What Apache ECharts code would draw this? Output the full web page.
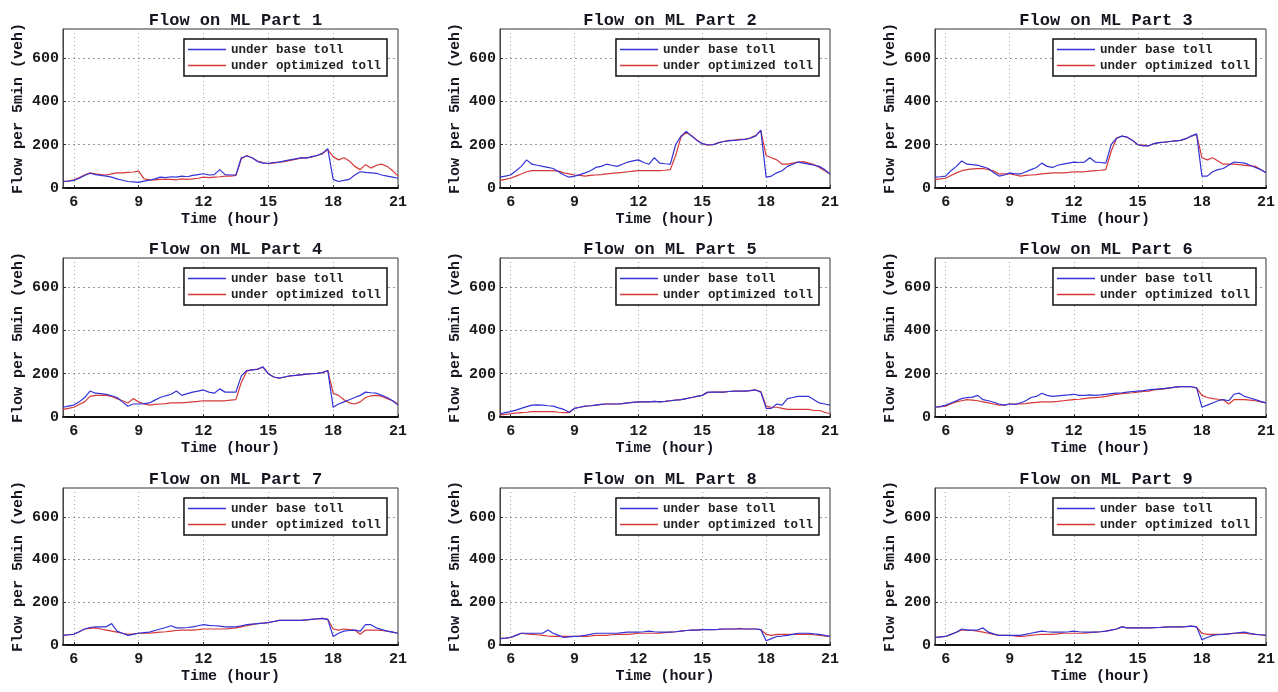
<!DOCTYPE html>
<html>
<head>
<meta charset="utf-8">
<script src="https://cdn.jsdelivr.net/npm/echarts@6/dist/echarts.min.js"></script>
<style>
  html, body { margin: 0; padding: 0; background: #fff; }
  #chart { width: 1278px; height: 692px; }
</style>
</head>
<body>
<div id="chart"></div>
<script>
// Sample times (hour of day, quarter-hour steps)
const hours = [
  5.5, 5.75,
  6, 6.25, 6.5, 6.75,  7, 7.25, 7.5, 7.75,  8, 8.25, 8.5, 8.75,
  9, 9.25, 9.5, 9.75,  10, 10.25, 10.5, 10.75,  11, 11.25, 11.5, 11.75,
  12, 12.25, 12.5, 12.75,  13, 13.25, 13.5, 13.75,  14, 14.25, 14.5, 14.75,
  15, 15.25, 15.5, 15.75,  16, 16.25, 16.5, 16.75,  17, 17.25, 17.5, 17.75,
  18, 18.25, 18.5, 18.75,  19, 19.25, 19.5, 19.75,  20, 20.25, 20.5, 20.75,
  21
];
const xTicks = [6, 9, 12, 15, 18, 21];
const yTicks = [0, 200, 400, 600];
const panelTitles = [
  'Flow on ML Part 1', 'Flow on ML Part 2', 'Flow on ML Part 3',
  'Flow on ML Part 4', 'Flow on ML Part 5', 'Flow on ML Part 6',
  'Flow on ML Part 7', 'Flow on ML Part 8', 'Flow on ML Part 9'
];
const seriesNames = ['under base toll', 'under optimized toll'];

// Flow per 5 min (veh) on each managed-lane part
const base1 = [30, 32,
  35, 45, 58, 68,  62, 58, 55, 50,  42, 36, 30, 28,  26, 32, 36, 42,
  50, 48, 52, 50,  55, 52, 58, 62,  66, 60, 62, 85,  62, 60, 60, 140,
  148, 140, 122, 115,  114, 118, 120, 125,  130, 135, 140, 138,  145, 150, 160, 182,
  40, 30, 35, 40,  60, 75, 72, 70,  68, 60, 55, 50,  45];
const opt1 = [30, 32,
  38, 48, 60, 70,  65, 62, 60, 65,  70, 70, 72, 74,  78, 42, 38, 38,
  40, 40, 40, 38,  42, 40, 42, 45,  50, 48, 50, 52,  55, 55, 58, 135,
  150, 140, 125, 118,  112, 115, 120, 122,  128, 132, 138, 140,  142, 150, 158, 178,
  145, 130, 140, 125,  100, 85, 108, 92,  105, 110, 100, 80,  55];

const base2 = [50, 55,
  60, 80, 100, 130,  110, 105, 100, 95,  90, 75, 60, 50,  55, 62, 70, 80,
  95, 100, 110, 105,  100, 110, 120, 125,  130, 118, 110, 140,  115, 112, 110, 200,
  240, 262, 240, 220,  205, 200, 200, 208,  215, 218, 220, 222,  225, 230, 240, 268,
  50, 55, 70, 80,  100, 110, 120, 115,  110, 105, 100, 85,  65];
const opt2 = [35, 40,
  45, 55, 65, 75,  80, 80, 80, 80,  80, 78, 70, 65,  60, 58, 55, 58,
  60, 62, 65, 68,  70, 72, 75, 78,  80, 80, 80, 80,  80, 82, 85, 150,
  235, 258, 242, 222,  205, 198, 200, 210,  215, 220, 222, 225,  225, 232, 242, 265,
  150, 140, 130, 110,  110, 115, 120, 122,  115, 108, 95, 80,  65];

const base3 = [50, 52,
  55, 80, 100, 125,  110, 108, 105, 98,  90, 70, 55, 60,  70, 65, 65, 75,
  85, 95, 115, 100,  95, 105, 110, 115,  120, 118, 120, 140,  120, 118, 115, 200,
  230, 240, 235, 220,  200, 195, 195, 205,  210, 212, 215, 218,  220, 228, 240, 250,
  55, 55, 75, 85,  90, 105, 120, 118,  115, 105, 95, 85,  70];
const opt3 = [40, 42,
  45, 58, 70, 80,  85, 88, 90, 90,  85, 78, 65, 65,  65, 60, 55, 58,
  60, 62, 65, 68,  70, 70, 70, 72,  75, 75, 75, 78,  80, 82, 85, 170,
  230, 240, 235, 220,  200, 198, 195, 205,  210, 212, 215, 218,  220, 228, 240, 248,
  140, 130, 140, 125,  110, 110, 110, 108,  105, 102, 100, 85,  70];

const base4 = [45, 50,
  55, 70, 90, 120,  110, 108, 105, 98,  90, 70, 50, 60,  60, 62, 65, 78,
  90, 98, 105, 120,  100, 108, 115, 120,  125, 115, 110, 130,  115, 115, 115, 190,
  215, 218, 220, 232,  200, 185, 180, 185,  190, 192, 195, 198,  200, 202, 205, 215,
  45, 60, 70, 80,  90, 100, 115, 112,  110, 100, 90, 75,  55];
const opt4 = [35, 40,
  45, 58, 70, 95,  100, 100, 100, 95,  85, 75, 65, 85,  70, 60, 55, 58,
  60, 62, 65, 65,  65, 68, 70, 72,  75, 75, 75, 75,  75, 78, 80, 160,
  212, 218, 222, 230,  200, 185, 180, 185,  190, 192, 195, 198,  200, 202, 205, 215,
  110, 100, 80, 65,  60, 70, 90, 98,  100, 95, 85, 75,  60];

const base5 = [15, 20,
  25, 32, 40, 48,  55, 56, 55, 52,  50, 42, 35, 22,  40, 45, 50, 52,
  55, 58, 60, 60,  60, 62, 65, 68,  70, 70, 70, 72,  70, 72, 75, 78,
  80, 85, 90, 95,  100, 115, 115, 115,  115, 118, 120, 120,  120, 122, 125, 115,
  40, 40, 60, 55,  85, 90, 95, 95,  95, 80, 65, 60,  55];
const opt5 = [10, 12,
  15, 18, 20, 22,  25, 25, 25, 25,  25, 22, 20, 20,  40, 45, 50, 52,
  55, 58, 60, 60,  60, 62, 65, 68,  70, 70, 70, 72,  70, 72, 75, 78,
  80, 85, 90, 95,  100, 113, 115, 115,  115, 118, 120, 120,  120, 122, 125, 118,
  50, 45, 45, 40,  35, 35, 35, 35,  35, 30, 30, 22,  15];

const base6 = [45, 48,
  55, 65, 75, 85,  90, 92, 100, 80,  75, 68, 60, 55,  60, 58, 65, 75,
  90, 95, 110, 100,  95, 98, 100, 102,  105, 100, 100, 102,  100, 102, 105, 108,
  110, 112, 115, 118,  120, 122, 125, 128,  130, 132, 135, 138,  140, 140, 140, 135,
  45, 55, 65, 75,  80, 75, 105, 110,  95, 88, 80, 72,  65];
const opt6 = [45, 48,
  50, 62, 70, 75,  80, 78, 75, 70,  65, 60, 55, 55,  60, 60, 60, 62,
  65, 68, 70, 70,  70, 72, 75, 78,  80, 82, 85, 88,  90, 92, 95, 100,
  105, 108, 110, 112,  115, 118, 120, 125,  128, 130, 135, 138,  140, 140, 140, 135,
  100, 90, 85, 82,  80, 60, 80, 80,  80, 78, 75, 70,  65];

const base7 = [45, 48,
  50, 62, 75, 82,  85, 85, 85, 100,  65, 55, 45, 50,  55, 58, 60, 68,
  75, 82, 90, 80,  80, 82, 85, 90,  95, 92, 90, 88,  85, 85, 85, 90,
  95, 98, 100, 102,  105, 110, 115, 115,  115, 115, 115, 118,  120, 122, 125, 120,
  40, 55, 65, 68,  70, 65, 95, 95,  80, 72, 65, 60,  55];
const opt7 = [45, 48,
  50, 62, 75, 78,  80, 75, 70, 65,  60, 55, 50, 52,  55, 55, 55, 58,
  60, 62, 65, 68,  70, 70, 70, 72,  75, 75, 75, 75,  75, 78, 80, 85,
  90, 95, 100, 102,  105, 110, 115, 115,  115, 115, 115, 118,  120, 122, 125, 120,
  75, 70, 75, 72,  70, 50, 70, 70,  70, 68, 65, 60,  55];

const base8 = [30, 32,
  35, 45, 55, 55,  55, 55, 55, 70,  55, 45, 35, 38,  40, 42, 45, 50,
  55, 55, 55, 55,  55, 58, 60, 60,  60, 62, 65, 62,  60, 60, 60, 62,
  65, 68, 70, 70,  72, 72, 72, 73,  75, 75, 75, 75,  75, 75, 75, 72,
  20, 30, 40, 42,  45, 50, 55, 55,  55, 52, 50, 45,  40];
const opt8 = [30, 32,
  35, 45, 55, 52,  50, 48, 45, 42,  40, 40, 40, 40,  40, 40, 40, 42,
  45, 45, 45, 48,  50, 50, 50, 52,  55, 55, 55, 55,  55, 58, 60, 62,
  65, 68, 70, 70,  72, 72, 72, 73,  75, 75, 75, 78,  75, 75, 75, 72,
  50, 45, 50, 50,  50, 50, 50, 50,  50, 48, 45, 42,  40];

const base9 = [35, 38,
  40, 50, 60, 75,  70, 70, 70, 80,  60, 52, 45, 45,  45, 45, 45, 50,
  55, 60, 65, 62,  60, 60, 60, 62,  65, 62, 60, 60,  60, 62, 65, 70,
  75, 85, 80, 80,  80, 80, 80, 81,  82, 84, 85, 85,  85, 86, 88, 85,
  25, 35, 45, 48,  50, 52, 55, 58,  60, 55, 50, 48,  45];
const opt9 = [35, 38,
  40, 50, 60, 70,  70, 68, 65, 60,  55, 50, 45, 45,  45, 42, 40, 42,
  45, 48, 50, 50,  50, 52, 55, 55,  55, 55, 55, 58,  60, 62, 65, 70,
  75, 85, 80, 80,  80, 80, 80, 81,  82, 84, 85, 85,  85, 86, 88, 85,
  55, 50, 50, 50,  50, 52, 55, 55,  55, 52, 50, 48,  45];

const baseSeries = [base1, base2, base3, base4, base5, base6, base7, base8, base9];
const optSeries = [opt1, opt2, opt3, opt4, opt5, opt6, opt7, opt8, opt9];

// Panel layout (3 x 3)
const W = 1278;
const colLeft = [63, 500, 935];
const colWidth = [335, 330, 332];
const rowTop = [29, 258, 488];
const rowHeight = [159, 159, 157];

const FONT = '"Liberation Mono", "DejaVu Sans Mono", monospace';
const BASE_COLOR = '#3333d6';
const OPT_COLOR = '#d63838';

const option = {
  animation: false,
  backgroundColor: '#fff',
  title: [], grid: [], xAxis: [], yAxis: [], legend: [], series: []
};

for (let p = 0; p < 9; p++) {
  const r = Math.floor(p / 3), c = p % 3;
  const left = colLeft[c], top = rowTop[r], w = colWidth[c], h = rowHeight[r];

  option.title.push({
    text: panelTitles[p],
    left: left + w / 2,
    top: top - 22,
    textAlign: 'center',
    textStyle: { fontFamily: FONT, fontSize: 17, fontWeight: 'bold', color: '#151520' }
  });

  option.grid.push({
    left: left, top: top, width: w, height: h,
    show: true, borderColor: '#333', borderWidth: 1, backgroundColor: '#fff'
  });

  option.xAxis.push({
    type: 'value', gridIndex: p, min: 5.5, max: 21,
    name: 'Time (hour)', nameLocation: 'middle', nameGap: 24,
    nameTextStyle: { fontFamily: FONT, fontSize: 15, fontWeight: 'bold', color: '#151520' },
    axisLine: { show: true, onZero: false, lineStyle: { color: '#111', width: 2 } },
    axisTick: { show: true, inside: true, length: 3, customValues: xTicks, lineStyle: { color: '#333' } },
    axisLabel: { customValues: xTicks, margin: 7, fontFamily: FONT, fontSize: 15, fontWeight: 'bold', color: '#1a1a1a' },
    splitLine: { show: true, lineStyle: { color: '#9aa', type: [1, 3], width: 1 } }
  });

  option.yAxis.push({
    type: 'value', gridIndex: p, min: 0, max: 735, interval: 200,
    name: 'Flow per 5min (veh)', nameLocation: 'middle', nameGap: 37, nameRotate: 90,
    nameTextStyle: { fontFamily: FONT, fontSize: 15, fontWeight: 'bold', color: '#151520' },
    axisLine: { show: true, lineStyle: { color: '#444', width: 1 } },
    axisTick: { show: true, inside: true, length: 3, customValues: yTicks, lineStyle: { color: '#333' } },
    axisLabel: { customValues: yTicks, margin: 4, fontFamily: FONT, fontSize: 15, fontWeight: 'bold', color: '#1a1a1a' },
    splitLine: { show: true, lineStyle: { color: '#999', type: [2, 3], width: 1 } }
  });

  option.legend.push({
    data: seriesNames,
    orient: 'vertical',
    right: W - (left + w) + 11,
    top: top + 10,
    icon: 'rect', itemWidth: 38, itemHeight: 1.5, itemGap: 3,
    padding: [4, 6, 4, 4],
    backgroundColor: '#fff', borderColor: '#111', borderWidth: 1.5,
    selectedMode: false,
    textStyle: { fontFamily: FONT, fontSize: 12.5, fontWeight: 'bold', color: '#222' }
  });

  option.series.push({
    name: seriesNames[1], type: 'line', xAxisIndex: p, yAxisIndex: p,
    data: hours.map((t, i) => [t, optSeries[p][i]]),
    showSymbol: false, z: 2,
    lineStyle: { color: OPT_COLOR, width: 1.2 }, itemStyle: { color: OPT_COLOR }
  });
  option.series.push({
    name: seriesNames[0], type: 'line', xAxisIndex: p, yAxisIndex: p,
    data: hours.map((t, i) => [t, baseSeries[p][i]]),
    showSymbol: false, z: 3,
    lineStyle: { color: BASE_COLOR, width: 1.2 }, itemStyle: { color: BASE_COLOR }
  });
}

const chart = echarts.init(document.getElementById('chart'), null, { renderer: 'canvas' });
chart.setOption(option);
</script>
</body>
</html>
